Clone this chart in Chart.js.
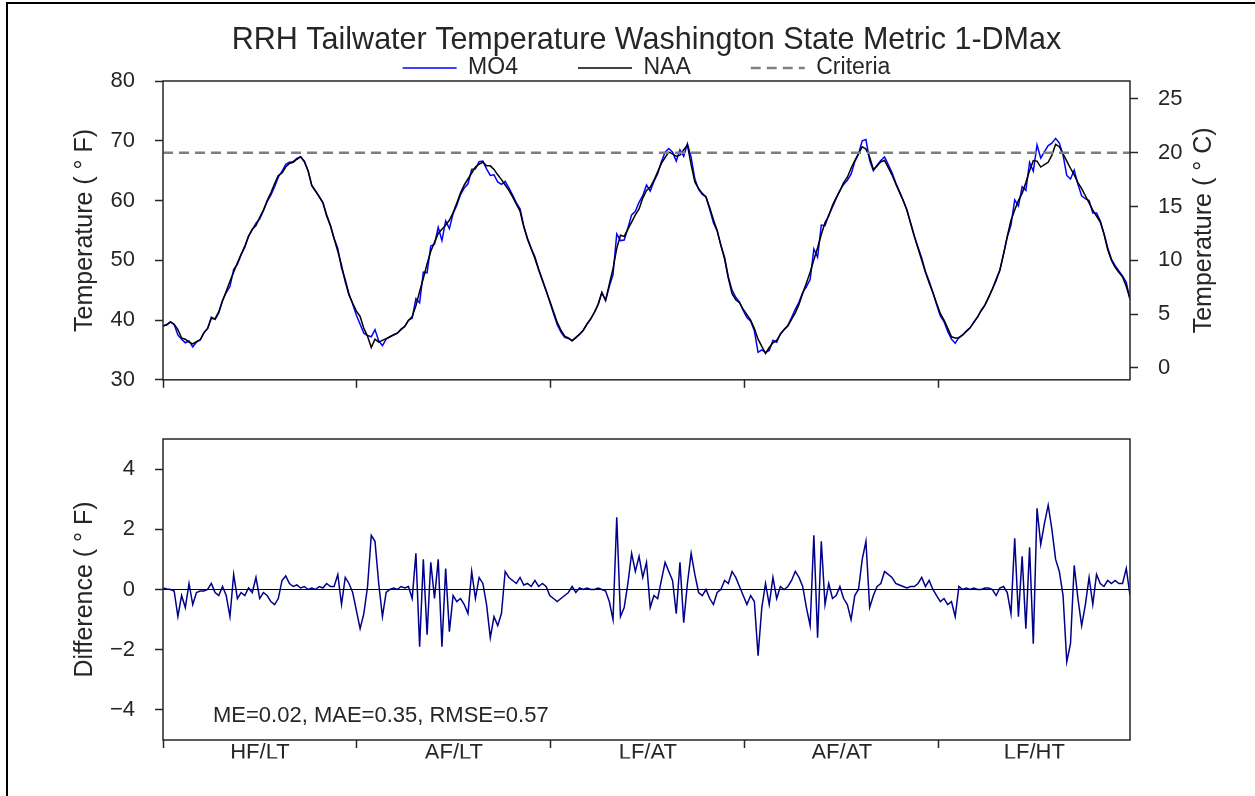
<!DOCTYPE html>
<html>
<head>
<meta charset="utf-8">
<script src="https://cdn.jsdelivr.net/npm/chart.js@4.4.1/dist/chart.umd.min.js"></script>
<style>
  html, body { margin: 0; padding: 0; background: #fff; }
  #page { position: relative; width: 1255px; height: 796px; overflow: hidden; background: #fff; }
  canvas { position: absolute; left: 0; }
  #topChart { top: 0; }
  #diffChart { top: 400px; }
  #frame { position: absolute; left: 6px; top: 2px; right: 0; bottom: 0; border-top: 2px solid #000; border-left: 2px solid #000; pointer-events: none; }
</style>
</head>
<body>
<div id="page">
  <canvas id="topChart" width="1255" height="413"></canvas>
  <canvas id="diffChart" width="1255" height="396"></canvas>
  <div id="frame"></div>
</div>
<script>
// scenario names shown under each year of the record
const SCENARIOS = ['HF/LT', 'AF/LT', 'LF/AT', 'AF/AT', 'LF/HT'];
const YEAR_START_DAYS = [0, 365, 730, 1095, 1460];
const X_MAX_DAY = 1820;
const DAYS_PER_SAMPLE = 7;

const CRITERIA_F = 68;
const TEMP_F_TICKS = [30, 40, 50, 60, 70, 80];
const TEMP_C_TICKS = [0, 5, 10, 15, 20, 25];
const DIFF_TICKS = [-4, -2, 0, 2, 4];
const STATS_TEXT = 'ME=0.02, MAE=0.35, RMSE=0.57';

// NAA daily max tailwater temperature (deg F), weekly samples
const NAA_F = [
  39.0, 39.2, 39.7, 39.3, 38.4, 37.0, 36.8, 36.3, 36.0, 36.4,
  36.7, 37.9, 38.6, 40.3, 40.2, 41.4, 43.2, 44.8, 46.5, 48.0,
  49.6, 51.0, 52.4, 54.0, 55.2, 55.8, 57.2, 58.4, 60.0, 61.3,
  62.8, 64.2, 64.6, 65.6, 66.2, 66.4, 66.9, 67.3, 66.5, 65.0,
  62.5, 61.6, 60.6, 59.6, 57.4, 55.8, 53.6, 51.5, 49.2, 46.4,
  44.2, 42.8, 41.5, 40.6, 38.6, 37.3, 35.4, 36.8, 36.3, 36.6,
  36.9, 37.2, 37.5, 37.8, 38.4, 38.9, 39.9, 40.6, 42.4, 44.8,
  47.0, 49.4, 51.5, 53.0, 54.5, 55.2, 55.9, 56.7, 58.0, 59.6,
  61.3, 62.6, 63.6, 64.6, 65.6, 66.1, 66.4, 65.8, 65.8, 65.2,
  64.3, 63.5, 62.6, 61.7, 60.6, 59.4, 58.2, 55.6, 53.5, 51.9,
  50.3, 48.4, 46.6, 44.9, 43.2, 41.4, 39.6, 38.3, 37.3, 37.0,
  36.5, 37.1, 37.6, 38.3, 39.3, 40.2, 41.3, 42.6, 44.6, 43.3,
  46.0, 48.6, 52.0, 54.2, 54.0, 55.2, 56.4, 57.6, 58.6, 60.4,
  61.7, 62.2, 63.4, 64.8, 66.2, 67.2, 68.1, 67.8, 67.4, 67.6,
  68.5, 69.3, 66.0, 63.1, 62.0, 61.2, 60.6, 58.8, 56.8, 55.0,
  52.5, 50.2, 47.0, 44.4, 43.4, 42.9, 41.8, 40.9, 40.0, 38.6,
  36.8, 35.6, 34.4, 35.4, 36.2, 36.6, 37.6, 38.4, 39.0, 40.1,
  41.2, 42.6, 44.5, 46.2, 48.0, 50.1, 52.1, 54.3, 56.3, 57.4,
  59.2, 60.5, 61.6, 63.0, 63.9, 65.4, 66.7, 67.8, 69.0, 68.6,
  67.3, 65.2, 65.8, 66.5, 66.7, 65.5, 64.3, 62.8, 61.4, 60.0,
  58.4, 56.2, 54.0, 52.0, 50.0, 48.0, 46.2, 44.6, 42.8, 41.1,
  40.0, 38.6, 37.2, 37.0, 37.0, 37.5, 38.1, 38.7, 39.6, 40.5,
  41.6, 42.5, 43.8, 45.2, 46.8, 48.3, 51.0, 54.0, 56.7, 58.4,
  60.0, 61.2, 63.0, 65.0, 66.7, 66.6, 65.6, 66.0, 66.4, 67.6,
  69.4, 69.0, 67.8, 66.6, 65.4, 64.3, 63.0, 62.0, 60.8, 59.6,
  58.4, 57.4, 56.4, 54.4, 51.8, 50.0, 48.8, 48.0, 47.2, 45.6,
  43.6
];

// MO4 minus NAA (deg F), same weekly samples
const DIFF_F = [
  0.05, 0.02, 0.0, -0.05, -0.9, -0.2, -0.6, 0.2, -0.5, -0.1,
  -0.05, -0.05, 0.0, 0.2, -0.1, -0.2, 0.1, -0.2, -0.9, 0.5,
  -0.3, -0.1, -0.2, 0.05, -0.1, 0.4, -0.3, -0.1, -0.2, -0.4,
  -0.5, -0.3, 0.3, 0.45, 0.2, 0.1, 0.15, 0.05, 0.1, 0.0,
  0.05, 0.0, 0.1, 0.05, 0.2, 0.1, 0.1, 0.5, -0.5, 0.4,
  0.2, -0.1, -0.7, -1.3, -0.8, 0.1, 1.8, 1.6, 0.2, -0.9,
  -0.1, 0.0, 0.05, 0.0, 0.1, 0.05, 0.1, -0.3, 1.2, -1.9,
  1.0, -1.5, 0.9, -0.3, 1.0, -1.9, 0.7, -1.4, -0.2, -0.4,
  -0.3, -0.5, -0.8, 0.6, -0.3, 0.4, 0.2, -0.5, -1.6, -0.9,
  -1.2, -0.8, 0.6, 0.4, 0.3, 0.2, 0.4, 0.15, 0.2, 0.1,
  0.3, 0.1, 0.2, 0.1, -0.2, -0.3, -0.4, -0.3, -0.2, -0.1,
  0.1, -0.1, 0.05, 0.0, 0.05, 0.0, 0.0, 0.05, 0.0, -0.05,
  -0.4, -1.0, 2.4, -0.9, -0.6, 0.2, 1.2, 0.6, 1.1, 0.4,
  0.9, -0.6, -0.2, -0.3, 0.3, 0.9, 0.6, 0.3, -0.8, 0.9,
  -1.1, 0.2, 1.2, 0.5, -0.1, -0.2, 0.0, -0.3, -0.5, -0.1,
  0.0, 0.3, 0.2, 0.6, 0.4, 0.1, -0.2, -0.5, -0.2, -0.4,
  -2.2, -0.6, 0.2, -0.5, 0.4, -0.3, 0.1, 0.0, 0.1, 0.3,
  0.6, 0.4, 0.1, -0.6, -1.2, 1.8, -1.6, 1.6, -0.5, 0.2,
  -0.3, -0.2, 0.1, -0.3, -0.5, -1.0, -0.2, 0.0, 1.0, 1.6,
  -0.6, -0.2, 0.1, 0.2, 0.6, 0.5, 0.4, 0.2, 0.15, 0.1,
  0.05, 0.1, 0.1, 0.2, 0.4, 0.1, 0.3, 0.0, -0.2, -0.4,
  -0.3, -0.5, -0.4, -0.9, 0.1, 0.0, 0.05, 0.0, 0.05, 0.0,
  0.0, 0.05, 0.05, 0.0, -0.2, 0.05, 0.1, -0.1, -0.8, 1.7,
  -0.9, 1.1, -1.3, 1.4, -1.8, 2.7, 1.5, 2.2, 2.8, 2.0,
  1.0, 0.6, -0.2, -2.4, -1.8, 0.8, -0.3, -1.2, -0.5, 0.4,
  -0.5, 0.5, 0.2, 0.1, 0.3, 0.2, 0.3, 0.2, 0.2, 0.7,
  -0.2
];

// MO4 = NAA + difference
const MO4_F = NAA_F.map((v, i) => v + DIFF_F[i]);

const INK = '#262626';
const FONT = "'Liberation Sans', Arial, sans-serif";
Chart.defaults.font.family = FONT;
Chart.defaults.font.size = 22;
Chart.defaults.color = INK;

const toPoints = arr => arr.map((y, i) => ({ x: i * DAYS_PER_SAMPLE, y: y }));
const fToC = f => (f - 32) / 1.8;
const yearMids = YEAR_START_DAYS.map((d, i) => (d + (YEAR_START_DAYS[i + 1] || X_MAX_DAY)) / 2);
const minus = v => (v < 0 ? '\u2212' + Math.abs(v) : String(v));

const tickGrid = {
  drawOnChartArea: false,
  drawTicks: true,
  tickLength: 8,
  tickWidth: 1.5,
  tickColor: INK,
  color: INK
};

// matplotlib style box around each axes
const boxFrame = {
  id: 'boxFrame',
  afterDatasetsDraw(chart) {
    const a = chart.chartArea;
    const ctx = chart.ctx;
    ctx.save();
    ctx.strokeStyle = INK;
    ctx.lineWidth = 1.5;
    ctx.strokeRect(a.left, a.top, a.right - a.left, a.bottom - a.top);
    ctx.restore();
  }
};

// right hand label reads bottom to top like the left one
const rightTitle = {
  id: 'rightTitle',
  afterDraw(chart) {
    const a = chart.chartArea;
    const ctx = chart.ctx;
    ctx.save();
    ctx.translate(a.right + 74, (a.top + a.bottom) / 2);
    ctx.rotate(-Math.PI / 2);
    ctx.font = '25px ' + FONT;
    ctx.fillStyle = INK;
    ctx.textAlign = 'center';
    ctx.textBaseline = 'middle';
    ctx.fillText('Temperature ( \u00b0 C)', 0, 0);
    ctx.restore();
  }
};

const statsNote = {
  id: 'statsNote',
  afterDraw(chart) {
    const a = chart.chartArea;
    const ctx = chart.ctx;
    ctx.save();
    ctx.font = '22px ' + FONT;
    ctx.fillStyle = INK;
    ctx.textAlign = 'left';
    ctx.textBaseline = 'middle';
    ctx.fillText(STATS_TEXT, a.left + 50, a.bottom - 24);
    ctx.restore();
  }
};

const topChart = new Chart(document.getElementById('topChart'), {
  type: 'line',
  data: {
    datasets: [
      { label: 'MO4', data: toPoints(MO4_F), borderColor: '#0000ff', borderWidth: 1.5, order: 3 },
      { label: 'NAA', data: toPoints(NAA_F), borderColor: '#000000', borderWidth: 1.5, order: 2 },
      {
        label: 'Criteria',
        data: [{ x: 0, y: CRITERIA_F }, { x: X_MAX_DAY, y: CRITERIA_F }],
        borderColor: '#808080', borderWidth: 2.6, borderDash: [10, 6], order: 1
      }
    ]
  },
  options: {
    responsive: false,
    animation: false,
    devicePixelRatio: 1,
    events: [],
    layout: { padding: { left: 66, right: 0, top: -10, bottom: 0 } },
    elements: { point: { radius: 0 }, line: { tension: 0, fill: false } },
    plugins: {
      title: {
        display: true,
        fullSize: false,
        text: 'RRH Tailwater Temperature Washington State Metric 1-DMax',
        font: { size: 30.5, weight: 'normal' },
        color: INK,
        padding: { top: 32.2, bottom: -62.3 }
      },
      legend: {
        display: true,
        fullSize: false,
        maxHeight: 84.5,
        labels: {
          usePointStyle: true,
          pointStyleWidth: 54,
          padding: 60,
          font: { size: 23 },
          color: INK,
          generateLabels: chart => chart.data.datasets.map((ds, i) => ({
            text: ds.label,
            datasetIndex: i,
            hidden: false,
            fillStyle: ds.borderColor,
            strokeStyle: ds.borderColor,
            fontColor: INK,
            lineWidth: ds.borderWidth,
            lineDash: ds.borderDash || [],
            pointStyle: 'line'
          }))
        }
      },
      tooltip: { enabled: false }
    },
    scales: {
      x: {
        type: 'linear',
        min: 0,
        max: X_MAX_DAY,
        afterBuildTicks: s => { s.ticks = YEAR_START_DAYS.map(v => ({ value: v })); },
        ticks: { display: false },
        grid: tickGrid,
        border: { display: false }
      },
      y: {
        position: 'left',
        min: TEMP_F_TICKS[0],
        max: TEMP_F_TICKS[TEMP_F_TICKS.length - 1],
        afterBuildTicks: s => { s.ticks = TEMP_F_TICKS.map(v => ({ value: v })); },
        afterFit: s => { s.width = 97; },
        ticks: { padding: 20, color: INK, font: { size: 22 } },
        grid: tickGrid,
        border: { display: false },
        title: { display: true, text: 'Temperature ( \u00b0 F)', font: { size: 25 }, color: INK, padding: { top: 4, bottom: 4 } }
      },
      yC: {
        position: 'right',
        min: fToC(TEMP_F_TICKS[0]),
        max: fToC(TEMP_F_TICKS[TEMP_F_TICKS.length - 1]),
        afterBuildTicks: s => { s.ticks = TEMP_C_TICKS.map(v => ({ value: v })); },
        afterFit: s => { s.width = 125; },
        ticks: { padding: 20, color: INK, font: { size: 22 } },
        grid: tickGrid,
        border: { display: false }
      }
    }
  },
  plugins: [boxFrame, rightTitle]
});

const diffChart = new Chart(document.getElementById('diffChart'), {
  type: 'line',
  data: {
    datasets: [
      { label: 'zero', data: [{ x: 0, y: 0 }, { x: X_MAX_DAY, y: 0 }], borderColor: '#000000', borderWidth: 1.2, order: 1 },
      { label: 'MO4 - NAA', data: toPoints(DIFF_F), borderColor: '#00008b', borderWidth: 1.5, order: 2 }
    ]
  },
  options: {
    responsive: false,
    animation: false,
    devicePixelRatio: 1,
    events: [],
    layout: { padding: { left: 66, right: 125, top: 39, bottom: 37.6 } },
    elements: { point: { radius: 0 }, line: { tension: 0, fill: false } },
    plugins: {
      legend: { display: false },
      tooltip: { enabled: false }
    },
    scales: {
      x: {
        type: 'linear',
        min: 0,
        max: X_MAX_DAY,
        afterBuildTicks: s => {
          s.ticks = YEAR_START_DAYS.concat(yearMids).sort((a, b) => a - b).map(v => ({ value: v }));
        },
        ticks: {
          autoSkip: false,
          maxRotation: 0,
          padding: -8,
          color: INK,
          font: { size: 22 },
          callback: v => {
            const i = yearMids.indexOf(v);
            return i >= 0 ? SCENARIOS[i] : '';
          }
        },
        grid: Object.assign({}, tickGrid, {
          tickColor: c => (YEAR_START_DAYS.includes(c.tick && c.tick.value) ? INK : 'rgba(0,0,0,0)')
        }),
        border: { display: false }
      },
      y: {
        position: 'left',
        min: -5,
        max: 5,
        afterBuildTicks: s => { s.ticks = DIFF_TICKS.map(v => ({ value: v })); },
        afterFit: s => { s.width = 97; },
        ticks: { padding: 20, color: INK, font: { size: 22 }, callback: v => minus(v) },
        grid: tickGrid,
        border: { display: false },
        title: { display: true, text: 'Difference ( \u00b0 F)', font: { size: 25 }, color: INK, padding: { top: 4, bottom: 4 } }
      }
    }
  },
  plugins: [boxFrame, statsNote]
});
</script>
</body>
</html>
